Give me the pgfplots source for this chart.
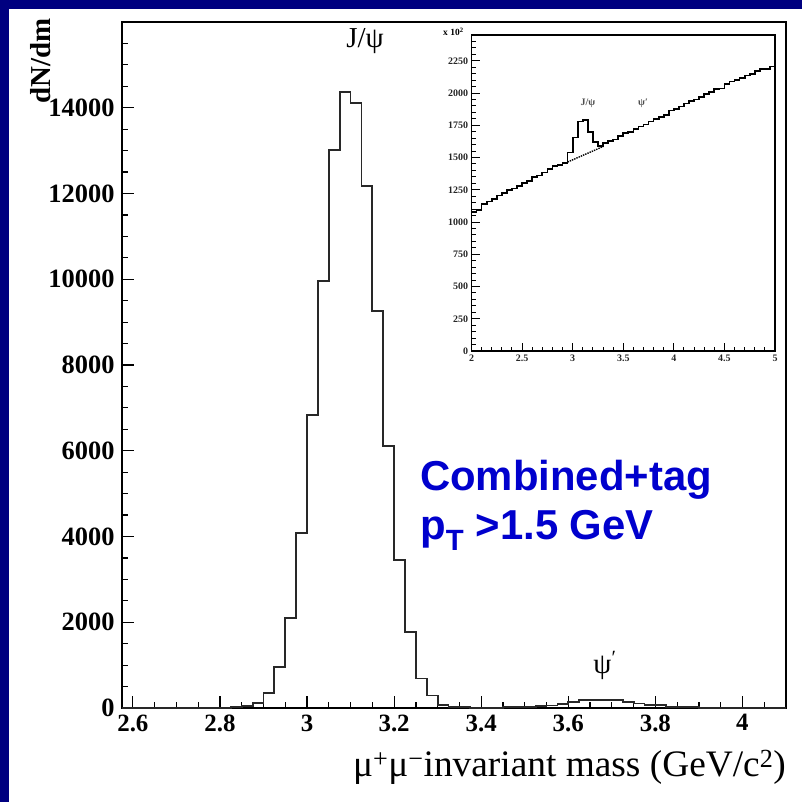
\documentclass[border=0pt]{standalone}
\usepackage{fontspec}
\setmainfont{Liberation Serif}
\newfontfamily\arial{Liberation Sans}
\usepackage{pgfplots}
\pgfplotsset{compat=1.18}
\definecolor{navy}{RGB}{0,0,128}
\definecolor{tagblue}{RGB}{0,0,205}
\definecolor{histgray}{RGB}{40,40,40}
\begin{document}
\begin{tikzpicture}
\fill[navy] (0bp,0bp) rectangle (802bp,802bp);
\fill[white] (9bp,0bp) rectangle (802bp,793bp);
\begin{axis}[
  at={(122bp,94bp)}, anchor=south west,
  scale only axis, width=664bp, height=686bp,
  xmin=2.575, xmax=4.1, ymin=0, ymax=16000,
  axis line style={line width=1.6bp, black},
  tick align=inside, xtick pos=bottom, ytick pos=left,
  xtick={2.6,2.8,3,3.2,3.4,3.6,3.8,4},
  minor xtick={2.65,2.7,2.75,2.85,2.9,2.95,3.05,3.1,3.15,3.25,3.3,3.35,3.45,3.5,3.55,3.65,3.7,3.75,3.85,3.9,3.95,4.05},
  ytick={0,2000,4000,6000,8000,10000,12000,14000},
  minor ytick={500,1000,1500,2500,3000,3500,4500,5000,5500,6500,7000,7500,8500,9000,9500,10500,11000,11500,12500,13000,13500,14500,15000,15500},
  scaled ticks=false,
  major tick length=12bp, minor tick length=6bp,
  tick style={black, line width=1.2bp},
  xticklabel style={font=\bfseries\fontsize{25}{25}\selectfont, yshift=-3bp},
  yticklabel style={font=\bfseries\fontsize{26.5}{26.5}\selectfont, xshift=-4bp},
  /pgf/number format/assume math mode=true,
  /pgf/number format/1000 sep={},
  clip=false,
]
\addplot[const plot, histgray, line width=1.8bp] coordinates {
(2.575,0) (2.825,20) (2.85,50) (2.875,110) (2.9,350) (2.925,950) (2.95,2100) (2.975,4090)
(3.0,6840) (3.025,9950) (3.05,13020) (3.075,14360) (3.1,14110) (3.125,12180) (3.15,9260)
(3.175,6110) (3.2,3460) (3.225,1780) (3.25,690) (3.275,290) (3.3,77) (3.325,20) (3.35,15)
(3.375,0) (3.45,20) (3.475,20) (3.5,25) (3.525,55) (3.55,60) (3.575,85) (3.6,140)
(3.625,190) (3.65,195) (3.675,195) (3.7,190) (3.725,147) (3.75,107) (3.775,70) (3.8,70)
(3.825,15) (3.85,15) (3.875,15) (3.9,0) (4.1,0)
};
\end{axis}
\begin{axis}[
  at={(471.5bp,451bp)}, anchor=south west,
  scale only axis, width=303.5bp, height=316bp,
  xmin=2, xmax=5, ymin=0, ymax=2450,
  axis background/.style={fill=white},
  axis line style={line width=1.5bp, black},
  tick align=inside, xtick pos=bottom, ytick pos=left,
  xtick={2,2.5,3,3.5,4,4.5,5},
  minor xtick={2.1,2.2,2.3,2.4,2.6,2.7,2.8,2.9,3.1,3.2,3.3,3.4,3.6,3.7,3.8,3.9,4.1,4.2,4.3,4.4,4.6,4.7,4.8,4.9},
  ytick={0,250,500,750,1000,1250,1500,1750,2000,2250},
  minor ytick={50,100,150,200,300,350,400,450,550,600,650,700,800,850,900,950,1050,1100,1150,1200,1300,1350,1400,1450,1550,1600,1650,1700,1800,1850,1900,1950,2050,2100,2150,2200,2300,2350,2400},
  scaled ticks=false,
  major tick length=8bp, minor tick length=4bp,
  tick style={black, line width=1bp},
  ticklabel style={font=\bfseries\fontsize{10}{10}\selectfont, color=black!85},
  /pgf/number format/assume math mode=true,
  /pgf/number format/1000 sep={},
  clip=false,
]
\addplot[const plot, black, line width=1.7bp] coordinates {
(2.00,1075) (2.05,1095) (2.10,1140) (2.15,1160) (2.20,1180) (2.25,1205) (2.30,1225) (2.35,1250)
(2.40,1260) (2.45,1280) (2.50,1305) (2.55,1320) (2.60,1350) (2.65,1360) (2.70,1385) (2.75,1410)
(2.80,1435) (2.85,1440) (2.90,1460) (2.95,1540) (3.00,1655) (3.05,1780) (3.10,1790) (3.15,1700)
(3.20,1620) (3.25,1590) (3.30,1610) (3.35,1630) (3.40,1640) (3.45,1665) (3.50,1690) (3.55,1700)
(3.60,1720) (3.65,1740) (3.70,1755) (3.75,1780) (3.80,1800) (3.85,1815) (3.90,1830) (3.95,1865)
(4.00,1875) (4.05,1895) (4.10,1920) (4.15,1940) (4.20,1950) (4.25,1970) (4.30,1995) (4.35,2010)
(4.40,2030) (4.45,2035) (4.50,2070) (4.55,2090) (4.60,2100) (4.65,2115) (4.70,2135) (4.75,2150)
(4.80,2170) (4.85,2185) (4.90,2185) (4.95,2205) (5.00,2205)
};
\addplot[black, densely dotted, line width=1.4bp] coordinates {(2.95,1465) (3.3,1585)};
\end{axis}
\begin{scope}[x=1bp,y=1bp]
\node[rotate=90, anchor=base east, inner sep=0pt, font=\bfseries\fontsize{29}{29}\selectfont] at (50,784) {dN/dm};
\node[anchor=base east, inner sep=0pt, font=\fontsize{37.5}{37.5}\selectfont] at (786,26) {μ\textsuperscript{+}μ\textsuperscript{−}invariant mass (GeV/c\textsuperscript{2})};
\node[font=\fontsize{29}{29}\selectfont] at (365,761) {J/ψ};
\node[font=\fontsize{29}{29}\selectfont] at (605,137) {ψ\textsuperscript{′}};
\node[anchor=base west, inner sep=0pt, text=tagblue, font=\arial\bfseries\fontsize{42}{42}\selectfont] at (420,312) {Combined+tag};
\node[anchor=base west, inner sep=0pt, text=tagblue, font=\arial\bfseries\fontsize{42}{42}\selectfont] at (420,263) {p\textsubscript{T} >1.5 GeV};
\node[anchor=base west, inner sep=0pt, font=\bfseries\fontsize{9.5}{9.5}\selectfont] at (443,766) {x 10\textsuperscript{2}};
\node[font=\bfseries\fontsize{10}{10}\selectfont, text=black!70] at (588,699) {J/ψ};
\node[font=\bfseries\fontsize{10}{10}\selectfont, text=black!70] at (643,699) {ψ′};
\end{scope}
\end{tikzpicture}
\end{document}
